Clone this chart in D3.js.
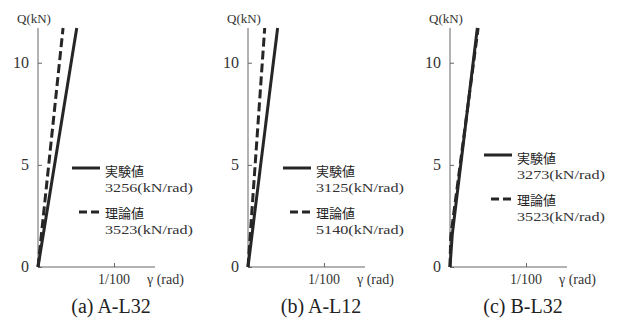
<!DOCTYPE html>
<html>
<head>
<meta charset="utf-8">
<script src="https://cdn.jsdelivr.net/npm/d3@7"></script>
<style>
  body { margin: 0; background: #fff; }
  svg { display: block; }
</style>
</head>
<body>
<div id="chart"></div>
<script>
// panel captions and stiffness values (kN/rad)
const panelNames = ['(a) A-L32', '(b) A-L12', '(c) B-L32'];
const expStiffness = [3256, 3125, 3273];
const theoStiffness = [3523, 5140, 3523];

// curves: [gamma (rad), Q (kN)]
const expCurves = [
  [[0, 0], [0.0051, 11.7]],
  [[0, 0], [0.0039, 11.7]],
  [[0, 0], [0.0003, 1.6], [0.0036, 11.7]]
];
const theoCurves = [
  [[0, 0], [0.0033, 11.7]],
  [[0, 0], [0.0022, 11.7]],
  [[0, 0], [0.0001, 1.5], [0.0037, 11.7]]
];

const yTicks = [0, 5, 10];
const xTicks = [0.01];
const xTickLabels = ['1/100'];

// layout per panel
const originX = [38, 248, 450];
const legendY = [168, 168, 155];
const legendX = [72, 283, 484];

const width = 619, height = 320;
const serif = "'Times New Roman', 'Liberation Serif', 'DejaVu Serif', serif";
const jp = "'Noto Sans CJK JP', sans-serif";
const ink = '#262626';

const svg = d3.select('#chart').append('svg')
  .attr('width', width)
  .attr('height', height);

panelNames.forEach((name, i) => {
  const x0 = originX[i];
  const x = d3.scaleLinear().domain([0, 0.0154]).range([x0, x0 + 117]);
  const y = d3.scaleLinear().domain([0, 11.7]).range([267, 28]);

  const g = svg.append('g');

  // y axis
  const yAxis = g.append('g')
    .attr('transform', `translate(${x0},0)`)
    .call(d3.axisRight(y).tickValues(yTicks).tickSize(4).tickFormat(''));
  yAxis.select('.domain').attr('d', `M0,${y(0)}V${y.range()[1]}`);
  yAxis.selectAll('path, line').attr('stroke', '#666').attr('stroke-width', 1);

  // y tick labels
  g.selectAll('.ylab')
    .data(yTicks)
    .join('text')
    .attr('x', x0 - 9)
    .attr('y', d => y(d) + 5)
    .attr('text-anchor', 'end')
    .style('font-family', serif)
    .attr('font-size', 16)
    .attr('fill', '#333')
    .text(d => d);

  // x axis
  const xAxis = g.append('g')
    .attr('transform', `translate(0,${y(0)})`)
    .call(d3.axisTop(x).tickValues(xTicks).tickSize(4).tickFormat(''));
  xAxis.select('.domain').attr('d', `M${x0},0H${x.range()[1]}`);
  xAxis.selectAll('path, line').attr('stroke', '#666').attr('stroke-width', 1);

  g.selectAll('.xlab')
    .data(xTicks)
    .join('text')
    .attr('x', d => x(d))
    .attr('y', 284)
    .attr('text-anchor', 'middle')
    .style('font-family', serif)
    .attr('font-size', 14)
    .attr('fill', '#333')
    .text((d, j) => xTickLabels[j]);

  g.append('text')
    .attr('x', x0 + 109)
    .attr('y', 284)
    .style('font-family', serif)
    .attr('font-size', 14)
    .attr('fill', '#333')
    .text('γ (rad)');

  g.append('text')
    .attr('x', x0 - 21)
    .attr('y', 23)
    .style('font-family', serif)
    .attr('font-size', 13)
    .attr('fill', '#333')
    .text('Q(kN)');

  // curves
  const line = d3.line().x(d => x(d[0])).y(d => y(d[1]));

  g.append('path')
    .attr('d', line(theoCurves[i]))
    .attr('fill', 'none')
    .attr('stroke', ink)
    .attr('stroke-width', 3)
    .attr('stroke-dasharray', '9,4');

  g.append('path')
    .attr('d', line(expCurves[i]))
    .attr('fill', 'none')
    .attr('stroke', ink)
    .attr('stroke-width', 3);

  // legend
  const lx = legendX[i], ly = legendY[i];
  g.append('line')
    .attr('x1', lx).attr('x2', lx + 28)
    .attr('y1', ly).attr('y2', ly)
    .attr('stroke', ink).attr('stroke-width', 3);
  g.append('text')
    .attr('x', lx + 33).attr('y', ly + 8)
    .style('font-family', jp).attr('font-size', 13)
    .attr('fill', '#222')
    .text('実験値');
  g.append('text')
    .attr('x', lx + 33).attr('y', ly + 24)
    .style('font-family', serif).attr('font-size', 13)
    .attr('textLength', 88).attr('lengthAdjust', 'spacingAndGlyphs')
    .attr('fill', '#333')
    .text(`${expStiffness[i]}(kN/rad)`);

  const dy = ly + 44;
  g.append('line')
    .attr('x1', lx + 7).attr('x2', lx + 28)
    .attr('y1', dy).attr('y2', dy)
    .attr('stroke', ink).attr('stroke-width', 3)
    .attr('stroke-dasharray', '8,4');
  g.append('text')
    .attr('x', lx + 33).attr('y', dy + 6)
    .style('font-family', jp).attr('font-size', 13)
    .attr('fill', '#222')
    .text('理論値');
  g.append('text')
    .attr('x', lx + 33).attr('y', dy + 22)
    .style('font-family', serif).attr('font-size', 13)
    .attr('textLength', 88).attr('lengthAdjust', 'spacingAndGlyphs')
    .attr('fill', '#333')
    .text(`${theoStiffness[i]}(kN/rad)`);

  // caption
  g.append('text')
    .attr('x', x0 + 73)
    .attr('y', 313)
    .attr('text-anchor', 'middle')
    .style('font-family', serif)
    .attr('font-size', 20)
    .attr('fill', '#222')
    .text(name);
});
</script>
</body>
</html>
